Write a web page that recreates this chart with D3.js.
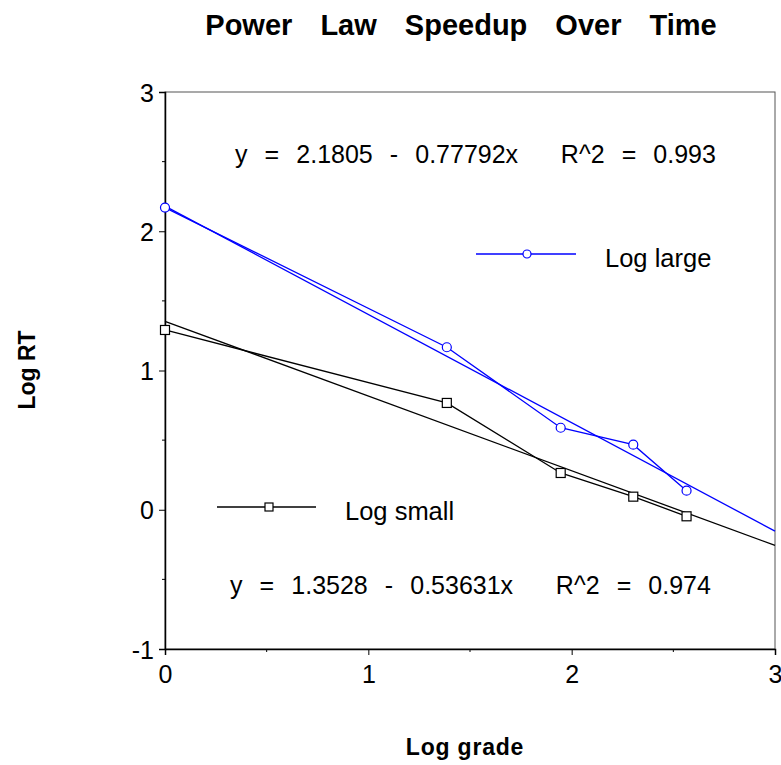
<!DOCTYPE html>
<html>
<head>
<meta charset="utf-8">
<script src="https://cdn.jsdelivr.net/npm/d3@7"></script>
<style>
  body { margin: 0; background: #fff; }
  text { font-family: "Liberation Sans", Arial, sans-serif; }
</style>
</head>
<body>
<div id="chart"></div>
<script>
// log grade (ln of grade 1, 4, 7, 10, 13)
var logGrade = [0, 1.386, 1.946, 2.303, 2.565];
var logLarge = [2.17, 1.167, 0.589, 0.467, 0.137];
var logSmall = [1.291, 0.767, 0.264, 0.094, -0.047];
var fitLarge = [2.1805, -0.77792];
var fitSmall = [1.3528, -0.53631];
var xTicks = [0, 1, 2, 3];
var yTicks = [-1, 0, 1, 2, 3];

var w = 781, h = 765;
var x = d3.scaleLinear().domain([0, 3]).range([165, 775]);
var y = d3.scaleLinear().domain([-1, 3]).range([649, 92]);

var svg = d3.select("#chart").append("svg")
    .attr("width", w)
    .attr("height", h);

/* titulo */
svg.append("text")
    .attr("x", 461).attr("y", 35)
    .attr("text-anchor", "middle")
    .style("font-size", "29px")
    .style("font-weight", "bold")
    .style("word-spacing", "20px")
    .text("Power Law Speedup Over Time");

/* marco */
svg.append("rect")
    .attr("x", 165).attr("y", 92)
    .attr("width", 610).attr("height", 557)
    .attr("fill", "none")
    .attr("stroke", "#555")
    .attr("stroke-width", 1);

/* ejes */
var xAxis = d3.axisBottom(x).tickValues(xTicks).tickSize(6).tickPadding(8).tickFormat(function (d) { return String(d); });
var yAxis = d3.axisLeft(y).tickValues(yTicks).tickSize(6).tickPadding(6).tickFormat(function (d) { return String(d); });

var gx = svg.append("g").attr("transform", "translate(0,649)").call(xAxis);
var gy = svg.append("g").attr("transform", "translate(165,0)").call(yAxis);
[gx, gy].forEach(function (g) {
    g.select(".domain").attr("stroke", "#000").attr("stroke-width", 1.5);
    g.selectAll(".tick line").attr("stroke", "#000");
    g.selectAll(".tick text")
        .attr("fill", "#000")
        .style("font-size", "25px")
        .style("font-family", "'Liberation Sans', Arial, sans-serif");
});
gx.selectAll(".tick text").attr("dy", "0.8em");
gy.selectAll(".tick text").attr("dx", "1px").attr("dy", "0.36em");

// minor ticks
svg.append("g").selectAll("line")
    .data([0.5, 1.5, 2.5])
    .enter().append("line")
    .attr("x1", function (d) { return x(d); })
    .attr("x2", function (d) { return x(d); })
    .attr("y1", 649).attr("y2", 652)
    .attr("stroke", "#000");
svg.append("g").selectAll("line")
    .data([-0.5, 0.5, 1.5, 2.5])
    .enter().append("line")
    .attr("y1", function (d) { return y(d); })
    .attr("y2", function (d) { return y(d); })
    .attr("x1", 162).attr("x2", 165)
    .attr("stroke", "#000");

/* titulos de ejes */
svg.append("text")
    .attr("x", 465).attr("y", 755)
    .attr("text-anchor", "middle")
    .style("font-size", "23px")
    .style("font-weight", "bold")
    .style("letter-spacing", "0.8px")
    .text("Log grade");
svg.append("text")
    .attr("transform", "translate(35,370) rotate(-90)")
    .attr("text-anchor", "middle")
    .style("font-size", "23px")
    .style("font-weight", "bold")
    .text("Log RT");

/* lineas de ajuste */
var line = d3.line()
    .x(function (d) { return x(d[0]); })
    .y(function (d) { return y(d[1]); });

function fitPts(f) {
    return x.domain().map(function (v) { return [v, f[0] + f[1] * v]; });
}

svg.append("path")
    .attr("d", line(fitPts(fitLarge)))
    .attr("fill", "none").attr("stroke", "#0000ff").attr("stroke-width", 1.3);
svg.append("path")
    .attr("d", line(fitPts(fitSmall)))
    .attr("fill", "none").attr("stroke", "#000").attr("stroke-width", 1.3);

/* series */
var large = logGrade.map(function (g, i) { return [g, logLarge[i]]; });
var small = logGrade.map(function (g, i) { return [g, logSmall[i]]; });

svg.append("path")
    .attr("d", line(large))
    .attr("fill", "none").attr("stroke", "#0000ff").attr("stroke-width", 1.3);
svg.append("path")
    .attr("d", line(small))
    .attr("fill", "none").attr("stroke", "#000").attr("stroke-width", 1.3);

svg.append("g").selectAll("circle")
    .data(large)
    .enter().append("circle")
    .attr("cx", function (d) { return x(d[0]); })
    .attr("cy", function (d) { return y(d[1]); })
    .attr("r", 4.5)
    .attr("fill", "#fff").attr("stroke", "#0000ff").attr("stroke-width", 1.2);

svg.append("g").selectAll("rect")
    .data(small)
    .enter().append("rect")
    .attr("x", function (d) { return x(d[0]) - 4.5; })
    .attr("y", function (d) { return y(d[1]) - 4.5; })
    .attr("width", 9).attr("height", 9)
    .attr("fill", "#fff").attr("stroke", "#000").attr("stroke-width", 1.2);

/* leyenda */
svg.append("line")
    .attr("x1", 476).attr("x2", 576).attr("y1", 254).attr("y2", 254)
    .attr("stroke", "#0000ff").attr("stroke-width", 1.3);
svg.append("circle")
    .attr("cx", 527).attr("cy", 254).attr("r", 4)
    .attr("fill", "#fff").attr("stroke", "#0000ff").attr("stroke-width", 1.2);
svg.append("text")
    .attr("x", 605).attr("y", 267)
    .style("font-size", "25.5px")
    .text("Log large");

svg.append("line")
    .attr("x1", 217).attr("x2", 316).attr("y1", 507).attr("y2", 507)
    .attr("stroke", "#000").attr("stroke-width", 1.3);
svg.append("rect")
    .attr("x", 265).attr("y", 503).attr("width", 8).attr("height", 8)
    .attr("fill", "#fff").attr("stroke", "#000").attr("stroke-width", 1.2);
svg.append("text")
    .attr("x", 345).attr("y", 520)
    .style("font-size", "25.5px")
    .text("Log small");

/* ecuaciones */
svg.append("text")
    .attr("x", 235).attr("y", 163)
    .attr("xml:space", "preserve")
    .style("white-space", "pre")
    .style("font-size", "25px")
    .style("word-spacing", "1.6px")
    .text("y  =  2.1805  -  0.77792x     R^2  =  0.993");
svg.append("text")
    .attr("x", 230).attr("y", 594)
    .attr("xml:space", "preserve")
    .style("white-space", "pre")
    .style("font-size", "25px")
    .style("word-spacing", "1.6px")
    .text("y  =  1.3528  -  0.53631x     R^2  =  0.974");
</script>
</body>
</html>
